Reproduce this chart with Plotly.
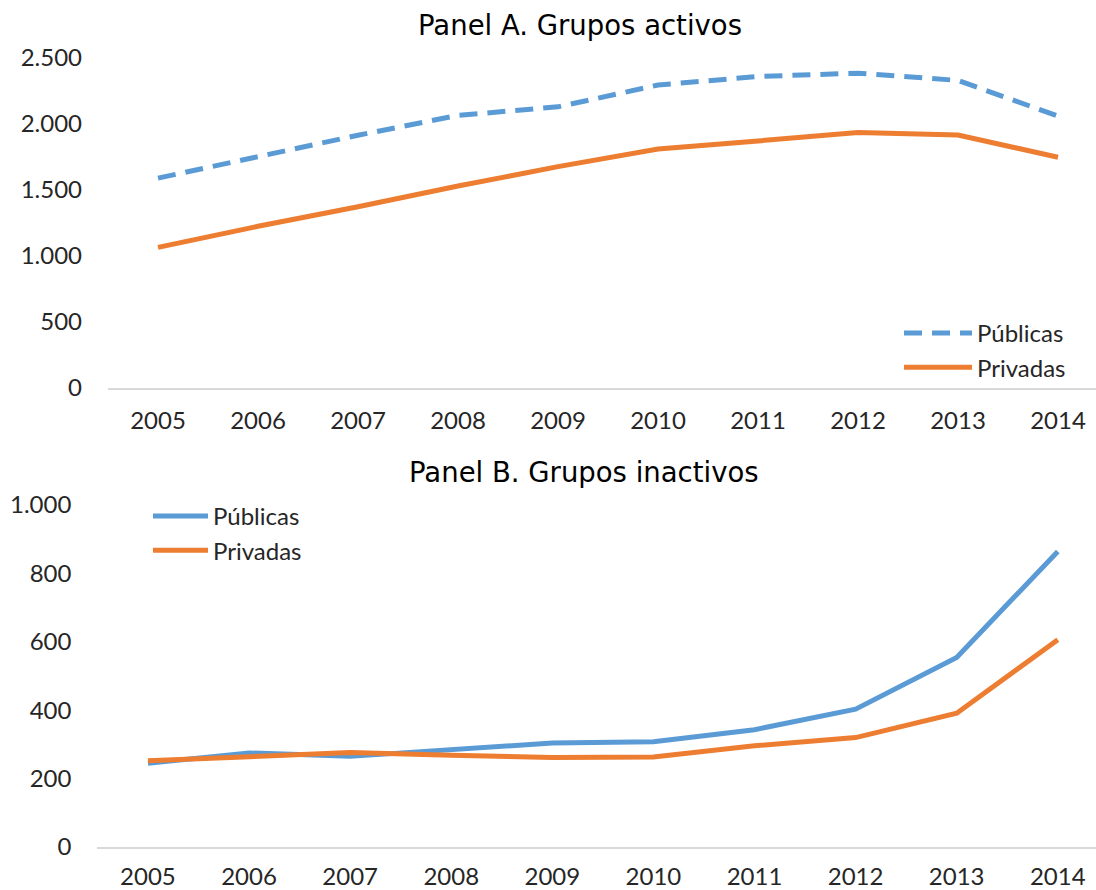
import plotly.graph_objects as go

years = ["2005", "2006", "2007", "2008", "2009", "2010", "2011", "2012", "2013", "2014"]

# Panel A. Grupos activos
publicas_activos = [1590, 1755, 1915, 2065, 2130, 2295, 2360, 2385, 2330, 2060]
privadas_activos = [1065, 1225, 1373, 1530, 1677, 1810, 1872, 1935, 1917, 1748]

# Panel B. Grupos inactivos
publicas_inactivos = [245, 275, 265, 284, 304, 308, 343, 403, 554, 864]
privadas_inactivos = [252, 265, 276, 268, 262, 263, 296, 320, 391, 606]

BLUE = "#5B9BD5"
ORANGE = "#ED7D31"
FONT = "Lato"
TITLE_FONT = "DejaVu Sans"
TXT = "#262626"

W, H = 1096, 890

fig = go.Figure()

fig.add_trace(go.Scatter(x=years, y=publicas_activos, name="Públicas", mode="lines",
                         line=dict(color=BLUE, width=5, dash="18px,10px"),
                         xaxis="x", yaxis="y", legend="legend"))
fig.add_trace(go.Scatter(x=years, y=privadas_activos, name="Privadas", mode="lines",
                         line=dict(color=ORANGE, width=5),
                         xaxis="x", yaxis="y", legend="legend"))
fig.add_trace(go.Scatter(x=years, y=publicas_inactivos, name="Públicas", mode="lines",
                         line=dict(color=BLUE, width=5),
                         xaxis="x2", yaxis="y2", legend="legend2"))
fig.add_trace(go.Scatter(x=years, y=privadas_inactivos, name="Privadas", mode="lines",
                         line=dict(color=ORANGE, width=5),
                         xaxis="x2", yaxis="y2", legend="legend2"))


def px_x(p):
    return p / W


def px_y(p):
    return 1 - p / H


tickfont = dict(family=FONT, size=24, color=TXT)

xcommon = dict(type="category", showgrid=False, zeroline=False, showline=True,
               linecolor="#D9D9D9", linewidth=1.5, ticks="", tickfont=tickfont,
               automargin=False)
ycommon = dict(showgrid=False, zeroline=False, showline=False, ticks="",
               tickfont=tickfont, tickformat=",d", ticklabelstandoff=25,
               automargin=False)

legfont = dict(family=FONT, size=24, color=TXT)

fig.update_layout(
    width=W, height=H,
    margin=dict(l=0, r=0, t=0, b=0, autoexpand=False),
    paper_bgcolor="white", plot_bgcolor="white",
    separators=",.",
    font=dict(family=FONT, size=24, color=TXT),
    xaxis=dict(xcommon, domain=[px_x(108), 1], range=[-0.5, 9.38], anchor="y",
               ticklabelstandoff=10),
    yaxis=dict(ycommon, domain=[px_y(388), px_y(58)], range=[0, 2500], dtick=500, anchor="x"),
    xaxis2=dict(xcommon, domain=[px_x(97.4), 1], range=[-0.5, 9.378], anchor="y2",
                ticklabelstandoff=7),
    yaxis2=dict(ycommon, domain=[px_y(847), px_y(505)], range=[0, 1000], dtick=200, anchor="x2"),
    legend=dict(x=px_x(899), y=px_y(311), xanchor="left", yanchor="top",
                bgcolor="rgba(0,0,0,0)", font=legfont, itemwidth=68, tracegroupgap=0),
    legend2=dict(x=px_x(148), y=px_y(494), xanchor="left", yanchor="top",
                 bgcolor="rgba(0,0,0,0)", font=legfont, itemwidth=55, tracegroupgap=0),
    showlegend=True,
    annotations=[
        dict(text="Panel A. Grupos activos", x=px_x(580), y=px_y(25), xref="paper", yref="paper",
             xanchor="center", yanchor="middle", showarrow=False,
             font=dict(family=TITLE_FONT, size=27.5, color="#000000")),
        dict(text="Panel B. Grupos inactivos", x=px_x(584), y=px_y(472), xref="paper", yref="paper",
             xanchor="center", yanchor="middle", showarrow=False,
             font=dict(family=TITLE_FONT, size=27.5, color="#000000")),
    ],
)

fig.write_html("out.html", config={"displayModeBar": False},
               post_script="document.body.style.margin='0px';")
